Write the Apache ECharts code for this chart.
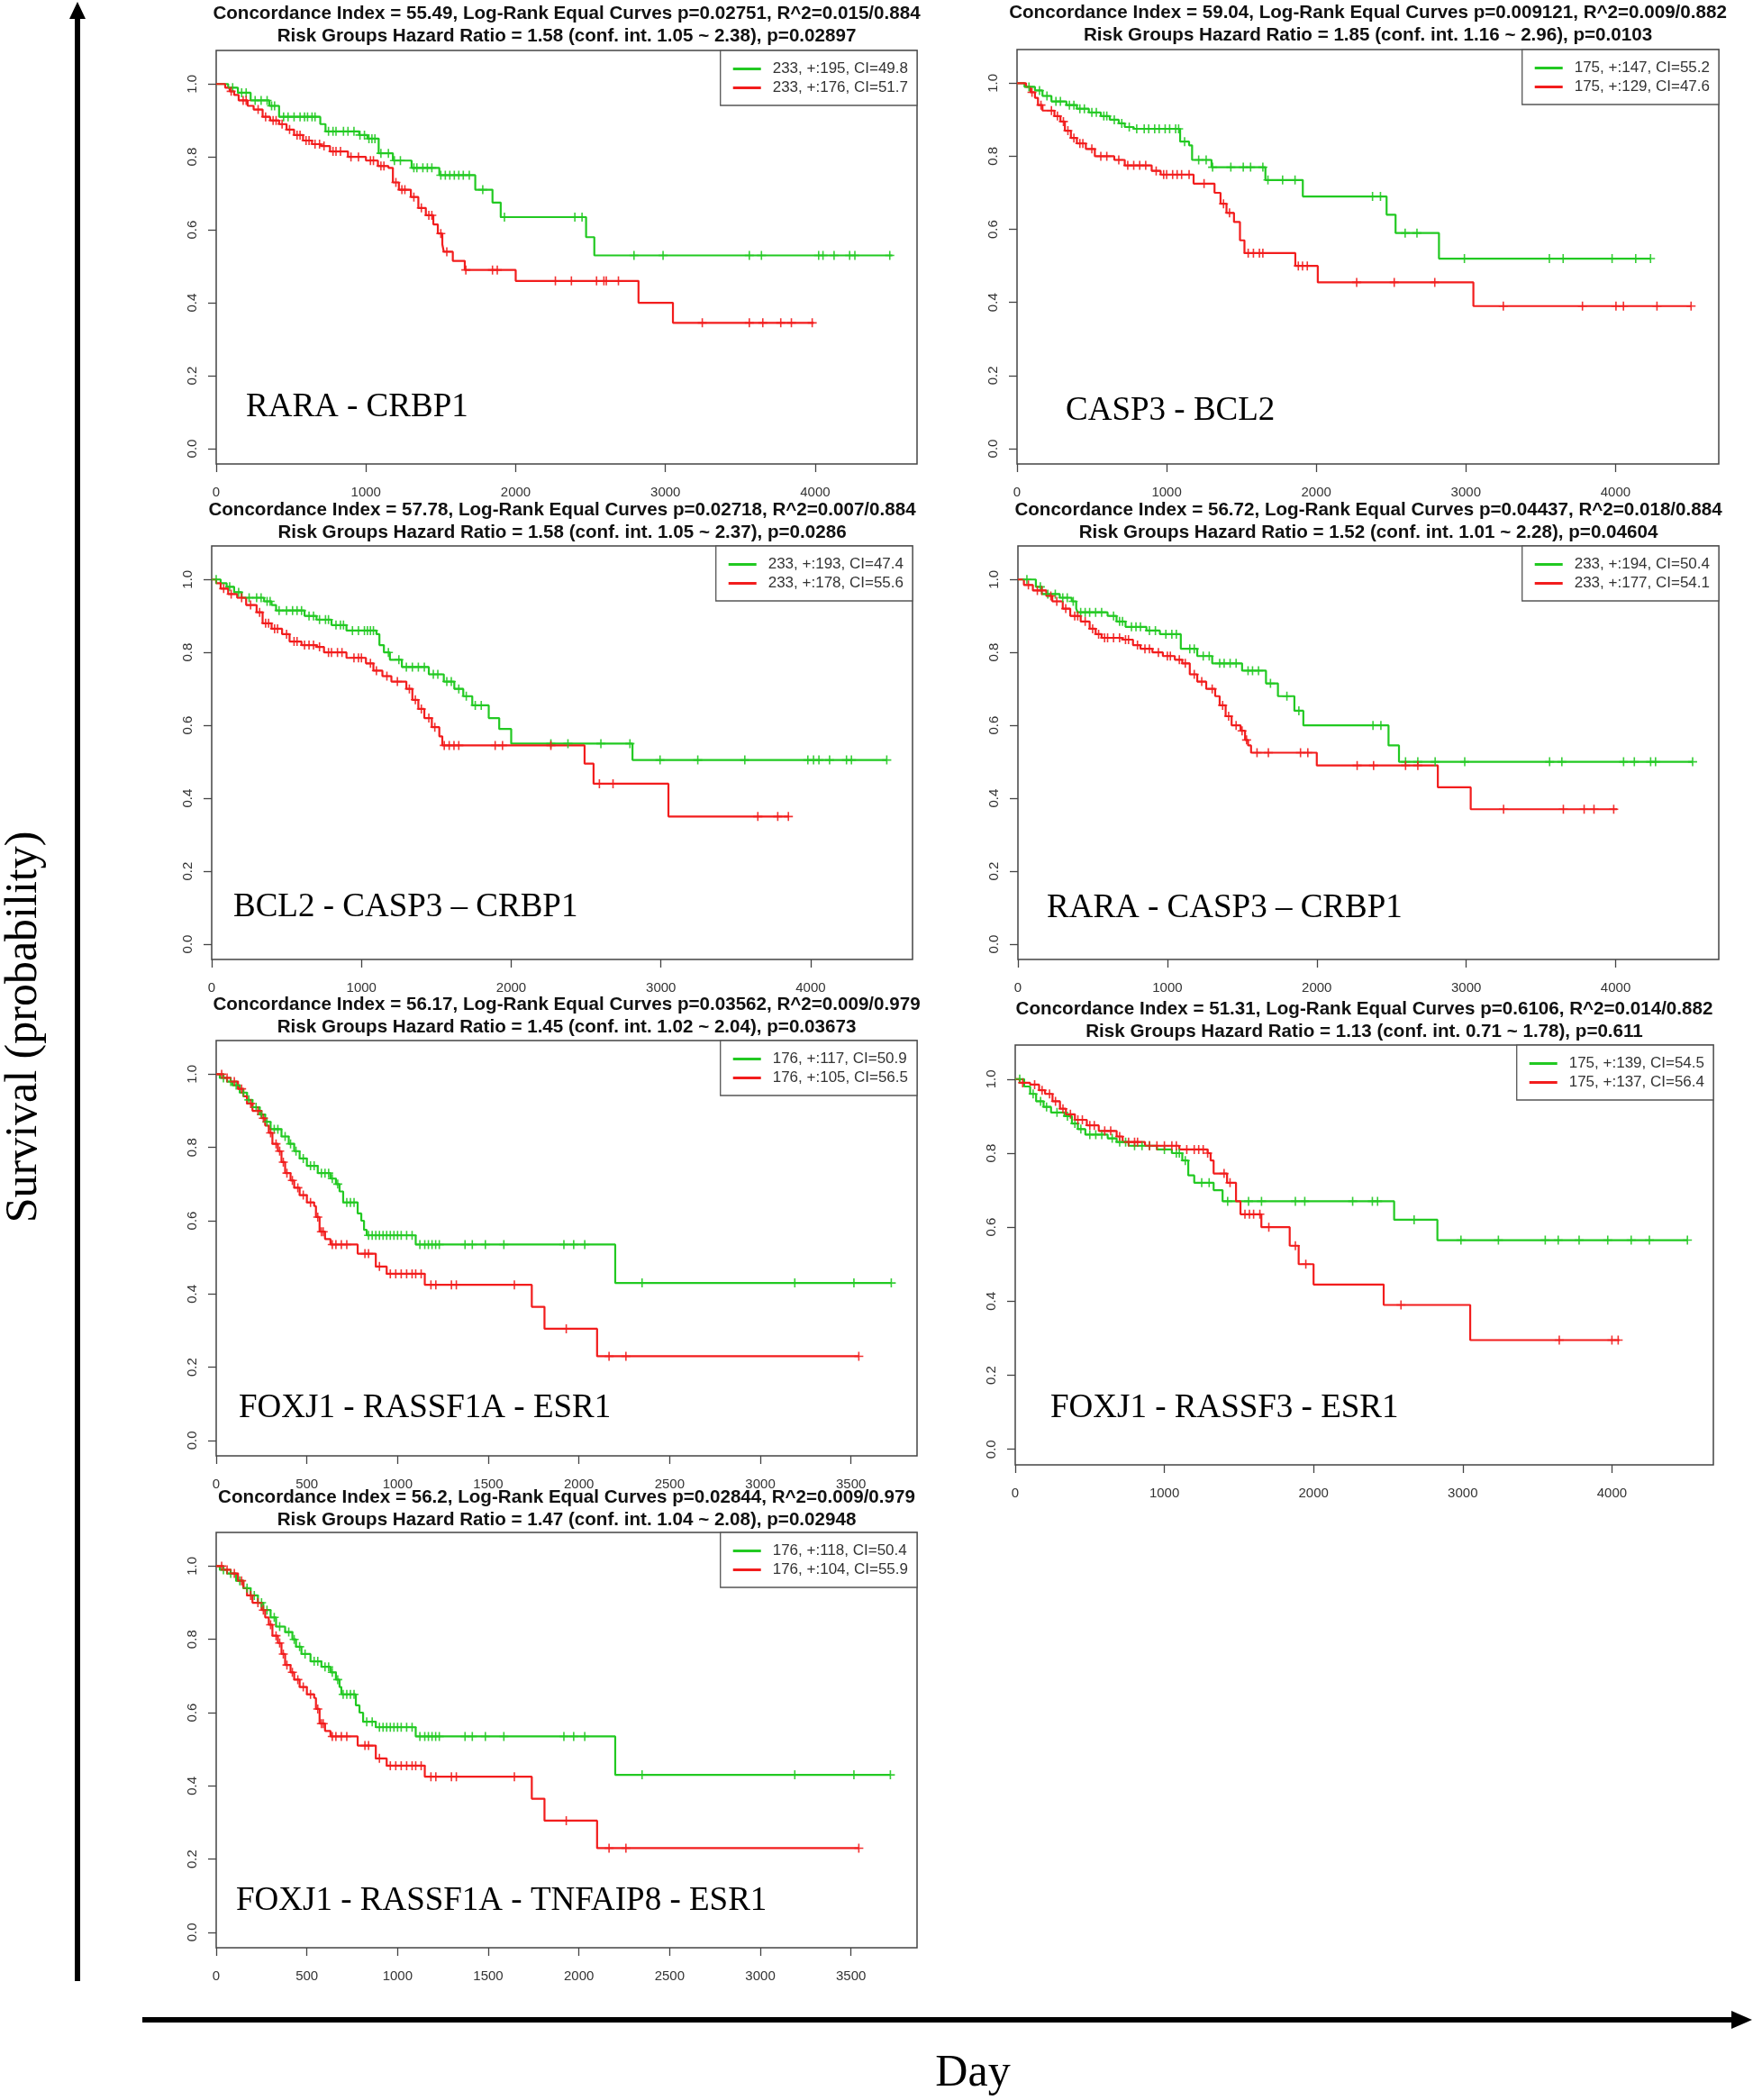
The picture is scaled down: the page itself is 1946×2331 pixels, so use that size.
<!DOCTYPE html>
<html>
<head>
<meta charset="utf-8">
<script src="https://cdn.jsdelivr.net/npm/echarts@6/dist/echarts.min.js"></script>
<style>
html,body{margin:0;padding:0;background:#fff;}
#chart{width:1946px;height:2331px;}
</style>
</head>
<body>
<div id="chart"></div>
<script>
// ---------------- DATA ----------------
const titles = [
  'Concordance Index = 55.49, Log-Rank Equal Curves p=0.02751, R^2=0.015/0.884\nRisk Groups Hazard Ratio = 1.58 (conf. int. 1.05 ~ 2.38), p=0.02897',
  'Concordance Index = 59.04, Log-Rank Equal Curves p=0.009121, R^2=0.009/0.882\nRisk Groups Hazard Ratio = 1.85 (conf. int. 1.16 ~ 2.96), p=0.0103',
  'Concordance Index = 57.78, Log-Rank Equal Curves p=0.02718, R^2=0.007/0.884\nRisk Groups Hazard Ratio = 1.58 (conf. int. 1.05 ~ 2.37), p=0.0286',
  'Concordance Index = 56.72, Log-Rank Equal Curves p=0.04437, R^2=0.018/0.884\nRisk Groups Hazard Ratio = 1.52 (conf. int. 1.01 ~ 2.28), p=0.04604',
  'Concordance Index = 56.17, Log-Rank Equal Curves p=0.03562, R^2=0.009/0.979\nRisk Groups Hazard Ratio = 1.45 (conf. int. 1.02 ~ 2.04), p=0.03673',
  'Concordance Index = 51.31, Log-Rank Equal Curves p=0.6106, R^2=0.014/0.882\nRisk Groups Hazard Ratio = 1.13 (conf. int. 0.71 ~ 1.78), p=0.611',
  'Concordance Index = 56.2, Log-Rank Equal Curves p=0.02844, R^2=0.009/0.979\nRisk Groups Hazard Ratio = 1.47 (conf. int. 1.04 ~ 2.08), p=0.02948'
];
const panelLabels = [
  'RARA - CRBP1', 'CASP3 - BCL2', 'BCL2 - CASP3 \u2013 CRBP1', 'RARA - CASP3 \u2013 CRBP1',
  'FOXJ1 - RASSF1A - ESR1', 'FOXJ1 - RASSF3 - ESR1', 'FOXJ1 - RASSF1A - TNFAIP8 - ESR1'
];
const greenNames = ['233, +:195, CI=49.8','175, +:147, CI=55.2','233, +:193, CI=47.4','233, +:194, CI=50.4','176, +:117, CI=50.9','175, +:139, CI=54.5','176, +:118, CI=50.4'];
const redNames   = ['233, +:176, CI=51.7','175, +:129, CI=47.6','233, +:178, CI=55.6','233, +:177, CI=54.1','176, +:105, CI=56.5','175, +:137, CI=56.4','176, +:104, CI=55.9'];

const xMaxes = [4680, 4690, 4680, 4690, 3864, 4680, 3864];
const xTicks4000 = [0, 1000, 2000, 3000, 4000];
const xTicks3500 = [0, 500, 1000, 1500, 2000, 2500, 3000, 3500];
const yTicks = [0, 0.2, 0.4, 0.6, 0.8, 1.0];

// Panel 1
const p1GreenSteps = [[0,1],[80,0.99],[145,0.976],[230,0.955],[355,0.94],[420,0.91],[695,0.89],[730,0.87],[955,0.86],[1010,0.85],[1085,0.81],[1180,0.79],[1305,0.77],[1490,0.75],[1730,0.71],[1845,0.675],[1900,0.635],[2470,0.58],[2525,0.53],[4515,0.53]];
const p1GreenCens = [110,170,200,260,300,340,370,390,450,480,520,560,590,610,640,660,750,780,800,850,880,920,960,990,1020,1040,1060,1100,1150,1190,1230,1320,1340,1380,1410,1440,1500,1530,1560,1590,1620,1650,1690,1780,1925,2395,2443,2790,2984,3560,3641,4023,4052,4126,4230,4265,4498];
const p1RedSteps = [[0,1],[60,0.99],[90,0.98],[120,0.97],[150,0.955],[210,0.94],[250,0.93],[310,0.91],[360,0.90],[420,0.89],[470,0.875],[520,0.86],[580,0.845],[640,0.835],[700,0.83],[760,0.815],[880,0.80],[1000,0.79],[1080,0.775],[1150,0.77],[1180,0.73],[1220,0.71],[1300,0.69],[1350,0.66],[1400,0.64],[1450,0.615],[1480,0.59],[1510,0.56],[1520,0.54],[1580,0.515],[1660,0.49],[2000,0.46],[2820,0.40],[3050,0.345],[3990,0.345]];
const p1RedCens = [100,180,200,280,330,380,400,440,490,540,560,600,620,660,690,720,780,800,830,900,950,1030,1050,1100,1120,1200,1240,1260,1320,1370,1420,1440,1500,1540,1667,1845,1877,2265,2372,2540,2589,2605,2686,3246,3560,3650,3770,3841,3980];

// Panel 2
const p2GreenSteps = [[0,1],[50,0.99],[120,0.98],[170,0.965],[230,0.95],[330,0.94],[400,0.93],[480,0.92],[560,0.91],[620,0.90],[680,0.89],[720,0.88],[780,0.875],[1090,0.84],[1150,0.83],[1170,0.79],[1300,0.77],[1660,0.735],[1910,0.69],[2470,0.64],[2530,0.59],[2820,0.52],[4234,0.52]];
const p2GreenCens = [80,150,200,260,290,350,380,420,450,500,530,580,600,650,700,750,800,850,880,920,950,990,1020,1060,1080,1120,1214,1264,1307,1429,1512,1561,1643,1677,1775,1858,2376,2429,2594,2673,2990,3558,3650,3977,4135,4234];
const p2RedSteps = [[0,1],[60,0.99],[90,0.975],[120,0.96],[140,0.94],[170,0.925],[250,0.91],[290,0.895],[320,0.87],[360,0.85],[400,0.835],[460,0.82],[520,0.80],[650,0.79],[720,0.775],[900,0.76],[960,0.75],[1180,0.725],[1320,0.70],[1360,0.67],[1400,0.645],[1450,0.62],[1490,0.57],[1520,0.535],[1860,0.50],[2010,0.455],[3050,0.39],[4505,0.39]];
const p2RedCens = [100,160,230,270,310,340,380,420,440,500,560,600,680,740,780,820,860,930,980,1000,1040,1070,1100,1150,1250,1380,1420,1545,1580,1620,1643,1880,1908,1940,2270,2521,2792,3250,3779,4003,4053,4277,4505];

// Panel 3
const p3GreenSteps = [[0,1],[60,0.99],[100,0.98],[150,0.965],[200,0.95],[350,0.94],[400,0.93],[430,0.915],[620,0.90],[700,0.89],[800,0.875],[900,0.86],[1100,0.85],[1120,0.82],[1150,0.80],[1190,0.78],[1270,0.76],[1450,0.74],[1550,0.72],[1620,0.70],[1680,0.68],[1740,0.655],[1850,0.62],[1920,0.59],[2000,0.55],[2810,0.505],[4508,0.505]];
const p3GreenCens = [30,120,180,250,300,330,370,390,450,500,540,570,600,650,680,720,760,780,830,860,880,940,980,1020,1040,1060,1080,1180,1250,1300,1340,1380,1420,1480,1510,1570,1600,1650,1700,1760,1800,2265,2379,2599,2793,2994,3246,3560,3981,4019,4055,4126,4239,4272,4508];
const p3RedSteps = [[0,1],[30,0.99],[60,0.975],[110,0.96],[170,0.95],[230,0.93],[300,0.91],[340,0.88],[400,0.865],[470,0.85],[520,0.83],[600,0.82],[700,0.815],[750,0.80],[900,0.785],[1030,0.77],[1080,0.75],[1140,0.735],[1200,0.72],[1300,0.70],[1340,0.67],[1380,0.645],[1420,0.62],[1470,0.595],[1520,0.57],[1540,0.545],[2490,0.495],[2550,0.44],[3050,0.35],[3855,0.35]];
const p3RedCens = [80,130,200,260,320,360,380,420,440,500,550,570,620,650,680,720,780,800,840,870,950,980,1000,1060,1100,1170,1240,1320,1360,1400,1450,1490,1553,1586,1618,1650,1893,1942,2265,2589,2680,3647,3780,3851];

// Panel 4
const p4GreenSteps = [[0,1],[120,0.98],[160,0.96],[280,0.95],[360,0.94],[390,0.92],[400,0.91],[600,0.90],[660,0.885],[720,0.87],[860,0.86],[950,0.85],[1090,0.81],[1200,0.79],[1300,0.77],[1500,0.75],[1660,0.715],[1740,0.68],[1850,0.64],[1910,0.60],[2480,0.545],[2550,0.50],[4515,0.50]];
const p4GreenCens = [60,150,200,250,300,330,370,420,450,480,520,560,640,680,700,760,790,820,880,920,990,1030,1060,1150,1180,1240,1280,1350,1380,1420,1460,1540,1570,1610,1690,1800,1880,2376,2429,2594,2676,2792,2990,3558,3640,4053,4125,4234,4267,4515];
const p4RedSteps = [[0,1],[40,0.985],[100,0.97],[190,0.955],[230,0.94],[300,0.92],[350,0.90],[420,0.885],[480,0.865],[520,0.85],[560,0.84],[700,0.835],[770,0.82],[820,0.81],[900,0.80],[970,0.79],[1050,0.78],[1100,0.77],[1150,0.74],[1200,0.72],[1260,0.70],[1320,0.68],[1350,0.655],[1390,0.625],[1430,0.60],[1490,0.585],[1520,0.56],[1540,0.545],[1560,0.525],[2000,0.49],[2810,0.43],[3030,0.37],[4010,0.37]];
const p4RedCens = [70,130,160,220,260,320,380,400,450,500,540,580,600,640,680,720,740,800,850,880,940,1000,1020,1080,1120,1180,1230,1300,1370,1410,1460,1500,1530,1600,1676,1891,1940,2270,2380,2594,2676,3250,3650,3789,3855,3987];

// Panel 5
const p5GreenSteps = [[0,1],[20,0.99],[60,0.98],[90,0.97],[130,0.95],[170,0.93],[200,0.91],[240,0.89],[270,0.87],[300,0.85],[360,0.83],[400,0.81],[430,0.79],[460,0.77],[500,0.75],[560,0.73],[630,0.715],[660,0.70],[680,0.68],[700,0.65],[780,0.62],[800,0.60],[815,0.575],[830,0.56],[1100,0.535],[2200,0.43],[3722,0.43]];
const p5GreenCens = [40,80,110,150,180,220,250,280,320,340,380,410,440,480,520,540,580,600,620,640,670,720,740,760,840,860,880,900,920,940,960,980,1000,1020,1050,1080,1123,1150,1170,1190,1210,1230,1372,1412,1484,1586,1917,1971,2032,2348,3190,3516,3722];
const p5RedSteps = [[0,1],[40,0.99],[80,0.98],[120,0.96],[150,0.94],[170,0.92],[200,0.90],[250,0.88],[270,0.86],[290,0.84],[310,0.81],[340,0.79],[360,0.76],[380,0.73],[410,0.71],[430,0.69],[460,0.67],[500,0.65],[540,0.64],[550,0.61],[570,0.57],[600,0.55],[630,0.535],[780,0.51],[880,0.475],[940,0.455],[1150,0.425],[1740,0.365],[1810,0.305],[2100,0.23],[3543,0.23]];
const p5RedCens = [30,60,100,140,190,230,260,300,330,350,370,390,420,450,480,520,560,580,590,640,660,690,720,820,840,900,960,990,1020,1050,1080,1100,1130,1184,1211,1297,1324,1644,1930,2166,2259,3543];

// Panel 6
const p6GreenSteps = [[0,1],[60,0.98],[100,0.96],[140,0.94],[190,0.925],[240,0.91],[330,0.90],[380,0.88],[420,0.865],[470,0.85],[620,0.84],[680,0.83],[760,0.82],[950,0.81],[1050,0.80],[1120,0.78],[1160,0.74],[1200,0.72],[1330,0.70],[1390,0.67],[2540,0.62],[2830,0.565],[4506,0.565]];
const p6GreenCens = [30,120,170,210,280,350,400,440,500,540,580,650,700,740,800,850,900,1000,1080,1100,1140,1250,1300,1424,1564,1651,1878,1941,2262,2394,2429,2674,2988,3239,3553,3640,3780,3972,4129,4251,4506];
const p6RedSteps = [[0,1],[30,0.99],[100,0.985],[160,0.97],[200,0.96],[250,0.94],[300,0.92],[340,0.905],[400,0.89],[480,0.875],[560,0.86],[680,0.845],[720,0.83],[870,0.82],[1100,0.81],[1290,0.80],[1310,0.78],[1330,0.745],[1420,0.72],[1480,0.67],[1510,0.635],[1650,0.60],[1840,0.55],[1900,0.50],[2000,0.445],[2470,0.39],[3050,0.295],[4050,0.295]];
const p6RedCens = [50,130,180,230,270,320,370,420,450,500,530,600,640,700,760,800,820,900,950,1000,1050,1080,1150,1200,1230,1260,1290,1400,1440,1540,1570,1598,1640,1700,1878,1948,2586,3647,4000,4042];

// Panel 7
const p7GreenSteps = [[0,1],[20,0.99],[60,0.98],[110,0.96],[150,0.94],[190,0.92],[230,0.90],[260,0.88],[300,0.86],[330,0.835],[380,0.82],[420,0.80],[440,0.78],[470,0.76],[520,0.74],[580,0.725],[630,0.71],[660,0.69],[680,0.67],[690,0.65],[770,0.62],[790,0.60],[810,0.575],[880,0.56],[1100,0.535],[2200,0.43],[3717,0.43]];
const p7GreenCens = [40,80,130,170,210,250,280,320,350,400,430,460,490,540,560,600,620,640,670,700,720,740,760,830,860,900,920,940,960,980,1000,1020,1050,1080,1123,1150,1170,1190,1210,1230,1372,1412,1484,1586,1917,1971,2032,2348,3190,3516,3717];
const p7RedSteps = [[0,1],[40,0.99],[80,0.98],[120,0.96],[150,0.94],[170,0.92],[200,0.90],[250,0.88],[270,0.86],[290,0.84],[310,0.81],[340,0.79],[360,0.76],[380,0.73],[410,0.71],[430,0.69],[460,0.67],[500,0.65],[540,0.64],[550,0.61],[570,0.57],[600,0.55],[630,0.535],[780,0.51],[880,0.475],[940,0.455],[1150,0.425],[1740,0.365],[1810,0.305],[2100,0.23],[3543,0.23]];
const p7RedCens = [30,60,100,140,190,230,260,300,330,350,370,390,420,450,480,520,560,580,590,640,660,690,720,820,840,900,960,990,1020,1050,1080,1100,1130,1184,1211,1297,1324,1644,1930,2166,2259,3543];

// ---------------- LAYOUT ----------------
const grids = [
  {left:240,  top:56,   width:778, height:459},
  {left:1129, top:55,   width:779, height:460},
  {left:235,  top:606,  width:778, height:459},
  {left:1130, top:606,  width:778, height:459},
  {left:240,  top:1155, width:778, height:461},
  {left:1127, top:1160, width:775, height:466},
  {left:240,  top:1701, width:778, height:461}
];
const titleTops = [3, 2, 554, 554, 1103, 1108, 1650];
const labelPos = [[273,455],[1183,459],[259,1010],[1162,1011],[265,1566],[1166,1566],[262,2113]];

const greenSteps = [p1GreenSteps,p2GreenSteps,p3GreenSteps,p4GreenSteps,p5GreenSteps,p6GreenSteps,p7GreenSteps];
const greenCens  = [p1GreenCens,p2GreenCens,p3GreenCens,p4GreenCens,p5GreenCens,p6GreenCens,p7GreenCens];
const redSteps   = [p1RedSteps,p2RedSteps,p3RedSteps,p4RedSteps,p5RedSteps,p6RedSteps,p7RedSteps];
const redCens    = [p1RedCens,p2RedCens,p3RedCens,p4RedCens,p5RedCens,p6RedCens,p7RedCens];

const GREEN = '#22c922';
const RED = '#f21d1d';
const PLUS = 'path://M4.2,0h1.6v10h-1.6zM0,4.2h10v1.6h-10z';

function survAt(steps, t) {
  let s = steps[0][1];
  for (const p of steps) { if (p[0] <= t) s = p[1]; else break; }
  return s;
}

const option = {
  animation: false,
  backgroundColor: '#fff',
  title: [], grid: [], xAxis: [], yAxis: [], legend: [], series: [],
  graphic: []
};

const sansFont = 'Liberation Sans';
grids.forEach((g, i) => {
  option.grid.push({left:g.left, top:g.top, width:g.width, height:g.height, show:true,
    borderColor:'#444', borderWidth:1.5, backgroundColor:'transparent', containLabel:false});
  option.title.push({
    text: titles[i], left: g.left + g.width/2, top: titleTops[i], textAlign:'center', padding:0,
    textStyle:{fontSize:20.6, fontWeight:'bold', fontFamily:sansFont, color:'#111', lineHeight:25}
  });
  const xt = (i === 4 || i === 6) ? xTicks3500 : xTicks4000;
  option.xAxis.push({
    gridIndex:i, type:'value', min:0, max:xMaxes[i],
    axisLine:{show:false, onZero:false},
    axisTick:{show:true, length:9, customValues:xt, lineStyle:{color:'#444', width:1.3}},
    axisLabel:{customValues:xt, margin:24, fontSize:15, color:'#333', fontFamily:sansFont,
      formatter: v => String(v)},
    splitLine:{show:false}
  });
  option.yAxis.push({
    gridIndex:i, type:'value', min:-0.042, max:1.092,
    axisLine:{show:false, onZero:false},
    axisTick:{show:true, length:9, customValues:yTicks, lineStyle:{color:'#444', width:1.3}},
    axisLabel:{customValues:yTicks, rotate:90, margin:19, fontSize:15, color:'#333', fontFamily:sansFont,
      formatter: v => v.toFixed(1)},
    splitLine:{show:false}
  });
  option.legend.push({
    orient:'vertical', right: 1946 - (g.left + g.width), top: g.top,
    data:[{name:greenNames[i], icon:'rect'}, {name:redNames[i], icon:'rect'}],
    itemWidth:31, itemHeight:3, itemGap:4, padding:[12,10,11,14],
    borderColor:'#555', borderWidth:1.3, backgroundColor:'#fff',
    selectedMode:false,
    textStyle:{fontSize:17, color:'#333', fontFamily:sansFont, padding:[0,0,0,8]}
  });
  [[greenNames[i], greenSteps[i], greenCens[i], GREEN], [redNames[i], redSteps[i], redCens[i], RED]].forEach(([nm, st, cs, col]) => {
    option.series.push({
      type:'line', name:nm, xAxisIndex:i, yAxisIndex:i, data:st, step:'end', symbol:'none',
      lineStyle:{color:col, width:2.2}, itemStyle:{color:col}, silent:true, z:3
    });
    option.series.push({
      type:'scatter', name:nm + ' censored', xAxisIndex:i, yAxisIndex:i,
      data: cs.map(t => [t, survAt(st, t)]),
      symbol:PLUS, symbolSize:10, itemStyle:{color:col, opacity:0.9}, silent:true, z:4
    });
  });
  option.graphic.push({
    type:'text', left: labelPos[i][0], top: labelPos[i][1] - 21, silent:true,
    style:{text: panelLabels[i], fontSize:37, fontFamily:'Liberation Serif', fill:'#000'}
  });
});

// Outer arrows and axis titles
option.graphic.push(
  {type:'line', shape:{x1:86, y1:2199, x2:86, y2:16}, style:{stroke:'#000', lineWidth:6}, silent:true},
  {type:'polygon', shape:{points:[[86,2],[77,21],[95,21]]}, style:{fill:'#000'}, silent:true},
  {type:'line', shape:{x1:158, y1:2242, x2:1924, y2:2242}, style:{stroke:'#000', lineWidth:6}, silent:true},
  {type:'polygon', shape:{points:[[1945,2242],[1922,2232],[1922,2252]]}, style:{fill:'#000'}, silent:true},
  {type:'text', x:27, y:1140, rotation:Math.PI/2, silent:true,
    style:{text:'Survival (probability)', fontSize:50, fontFamily:'Liberation Serif', fill:'#000', align:'center', verticalAlign:'middle'}},
  {type:'text', x:1080, y:2302, silent:true,
    style:{text:'Day', fontSize:50, fontFamily:'Liberation Serif', fill:'#000', align:'center', verticalAlign:'middle'}}
);

const chart = echarts.init(document.getElementById('chart'), null, {renderer:'canvas'});
chart.setOption(option);
</script>
</body>
</html>
